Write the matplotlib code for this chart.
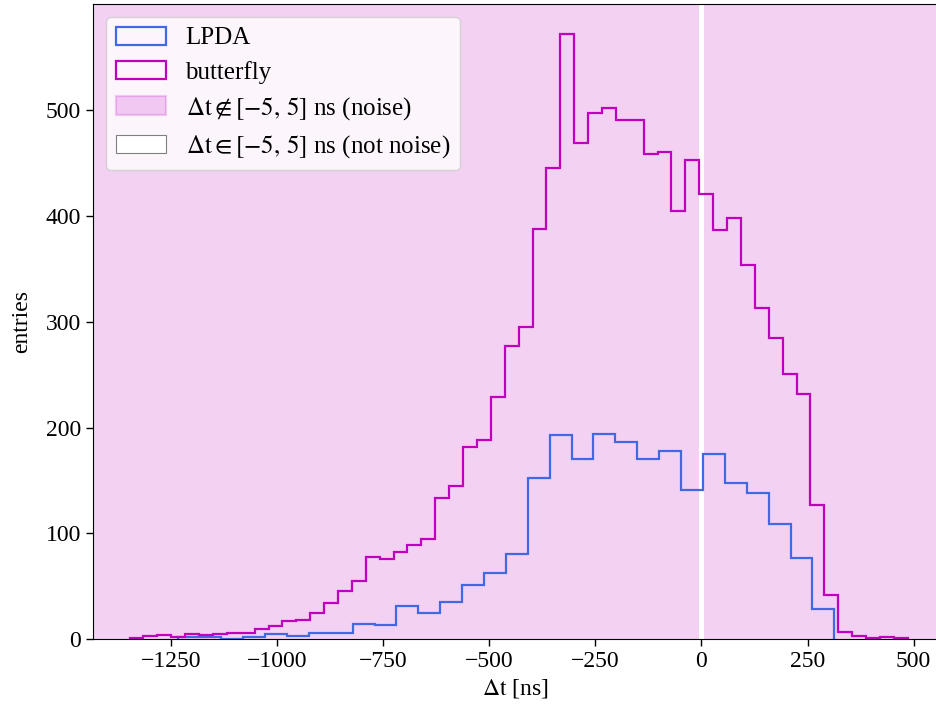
import numpy as np
import matplotlib
matplotlib.use("Agg")
import matplotlib.pyplot as plt
from matplotlib.patches import Patch

plt.rcParams['font.family'] = ['Liberation Serif', 'DejaVu Serif']
plt.rcParams['mathtext.fontset'] = 'stix'

# ---- data ----
butterfly_range = (-1347, 486)
butterfly_counts = [1, 3, 4, 2, 5, 4, 5, 6, 6, 9,
                    12, 17, 18, 25, 34, 45, 55, 78, 76, 82,
                    89, 95, 133, 145, 182, 188, 229, 277, 295, 388,
                    446, 572, 469, 498, 502, 491, 491, 459, 461, 405,
                    453, 421, 387, 398, 354, 313, 285, 251, 232, 127,
                    42, 7, 3, 1, 2, 1]
lpda_range = (-1234, 313)
lpda_counts = [2, 2, 0, 2, 5, 3, 6, 6, 14, 13,
               31, 25, 35, 51, 62, 80, 152, 193, 170, 194,
               186, 170, 178, 141, 175, 148, 138, 109, 77, 28]
notnoise_window = (-5, 5)
xlim = (-1433, 557)
xticks = [-1250, -1000, -750, -500, -250, 0, 250, 500]
yticks = [0, 100, 200, 300, 400, 500]

butterfly_edges = np.linspace(*butterfly_range, len(butterfly_counts) + 1)
lpda_edges = np.linspace(*lpda_range, len(lpda_counts) + 1)

fig = plt.figure(figsize=(9.36, 7.15), dpi=100)
ax = fig.add_axes([0.0994, 0.1063, 0.9026, 0.888])

noise_color = (0.75, 0, 0.75, 0.18)
ax.axvspan(xlim[0] - 100, notnoise_window[0], color=noise_color, lw=0)
ax.axvspan(notnoise_window[1], xlim[1] + 100, color=noise_color, lw=0)

ax.stairs(lpda_counts, lpda_edges, color='royalblue', lw=1.6, label='LPDA')
ax.stairs(butterfly_counts, butterfly_edges, color='m', lw=1.6, label='butterfly')

ax.set_xlim(*xlim)
ax.set_ylim(0, max(butterfly_counts) * 1.05)
ax.set_xticks(xticks)
ax.set_yticks(yticks)
ax.tick_params(labelsize=17, length=5, width=1.0)
ax.set_xlabel(r'$\Delta\mathrm{t}$ [ns]', fontsize=17)
ax.set_ylabel('entries', fontsize=17, labelpad=10)
ax.spines['right'].set_visible(False)

handles = [
    Patch(facecolor='none', edgecolor='royalblue', lw=1.6),
    Patch(facecolor='none', edgecolor='m', lw=1.6),
    Patch(facecolor=noise_color, edgecolor=noise_color, lw=1.6),
    Patch(facecolor='white', edgecolor='grey', lw=0.8),
]
labels = ['LPDA', 'butterfly',
          r'$\Delta\mathrm{t} \notin [-5,\,5]$ ns (noise)',
          r'$\Delta\mathrm{t} \in [-5,\,5]$ ns (not noise)']
ax.legend(handles, labels, loc='upper left', fontsize=18,
          handlelength=2.0, handleheight=0.75, labelspacing=0.45,
          borderaxespad=0.5)

fig.savefig('out.png', dpi=100)
